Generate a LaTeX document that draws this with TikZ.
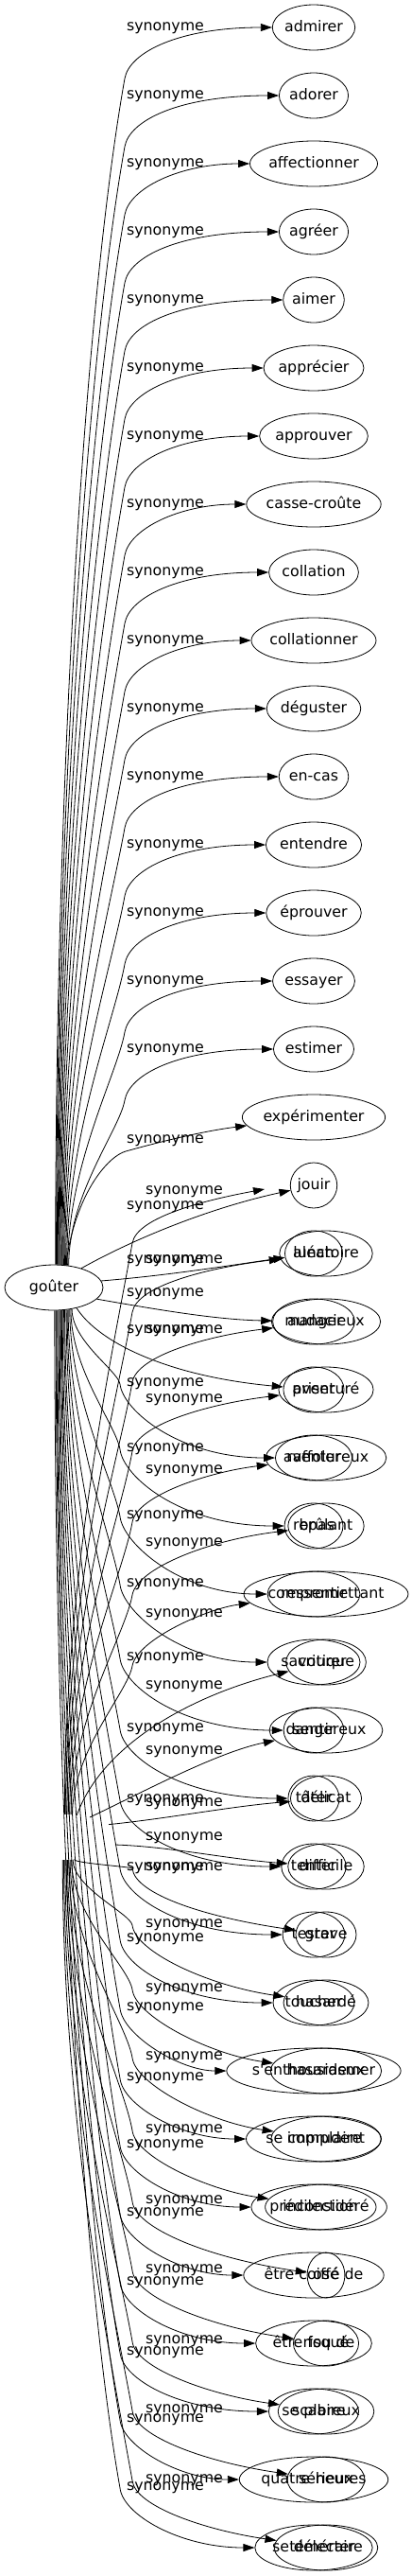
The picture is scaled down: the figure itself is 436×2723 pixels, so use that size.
\documentclass[tikz,border=0pt]{standalone}
\usepackage{fontspec}
\newfontfamily\graphfont{DejaVu Sans}
\usetikzlibrary{shapes.geometric, arrows.meta}
\newlength{\wordlen}

\begin{document}
\begin{tikzpicture}[x=1pt, y=-1pt,
    every node/.style={font=\graphfont\fontsize{15.8}{19}\selectfont},
    word/.style={ellipse, draw, line width=0.8pt, inner sep=0pt, minimum height=48pt, text height=11.5pt, text depth=3.5pt},
    syn/.style={inner sep=0pt},
    link/.style={draw, line width=0.8pt, -{Triangle[length=12pt, width=8pt]}}]
\graphfont\fontsize{15.8}{19}\selectfont
\useasboundingbox (0,0) rectangle (436,2723);

% the two roots (the second one is not drawn)
\node[word, minimum width=104pt] (gouter) at (57,1361) {goûter};
\node[ellipse, minimum width=120pt, minimum height=48pt] (hidden) at (65,1942) {};

% first column of words
\foreach \w [count=\i] in {admirer, adorer, affectionner, agréer, aimer, apprécier, approuver, casse-croûte, collation, collationner, déguster, en-cas, entendre, éprouver, essayer, estimer, expérimenter, jouir, lunch, manger, priser, raffoler, repas, ressentir, savourer, sentir, tâter, tenter, tester, toucher, s'enthousiasmer, se complaire, prédilection, être coiffé de, être fou de, se plaire, quatre-heures, se délecter} {
  \settowidth{\wordlen}{\w}
  \pgfmathsetmacro\ew{1.137*(\wordlen+35)}
  \node[word, minimum width=\ew pt] (a\i) at (332,{29+72*(\i-1)}) {\w};
}
% second column of words, drawn over the first
\foreach \w [count=\i from 19] in {aléatoire, audacieux, aventuré, aventureux, brûlant, compromettant, critique, dangereux, délicat, difficile, grave, hasardé, hasardeux, imprudent, inconsidéré, osé, risqué, scabreux, sérieux, téméraire} {
  \settowidth{\wordlen}{\w}
  \pgfmathsetmacro\ew{1.137*(\wordlen+35)}
  \node[word, minimum width=\ew pt] (b\i) at (345,{29+72*(\i-1)}) {\w};
}
\coordinate (b18) at (280,1257);

% edges going up from goûter
\foreach \i in {1,...,16} {
  \pgfmathsetmacro\yr{29+72*(\i-1)}
  \pgfmathsetmacro\qy{\yr+54}
  \pgfmathsetmacro\hgt{1339-\qy}
  \pgfmathtruncatemacro\ang{86-2*(\i-1)}
  \node[syn] (s\i) at (175,\yr+1) {synonyme};
  \draw[link] (gouter.\ang) .. controls +(0,-0.43*\hgt) and ({132-0.032*\hgt},{\qy+0.18*\hgt}) .. (132,\qy) .. controls +(5,-28) and (190,\yr) .. (a\i);
}
\node[syn] (s17) at (175,1206) {synonyme};
\draw[link] (gouter.62) .. controls (80,1260) and (115,1222) .. (133,1217) .. controls (180,1204) and (220,1195) .. (a17);
\node[syn] (s18) at (175,1276) {synonyme};
\draw[link] (gouter.35) .. controls (150,1305) and (230,1275) .. (a18);
\node[syn] (s19) at (175,1333) {synonyme};
\draw[link] (gouter.8) .. controls (180,1348) and (240,1338) .. (a19);
\node[syn] (s20) at (175,1368) {synonyme};
\draw[link] (gouter.-15) .. controls (170,1385) and (230,1395) .. (a20);
\node[syn] (s21) at (175,1407) {synonyme};
\draw[link] (gouter.-42) .. controls (105,1420) and (180,1455) .. (a21);

% edges going down from goûter
\foreach \i/\yl in {22/1463, 23/1532, 24/1603, 25/1675, 26/1753, 27/1828, 28/1903, 29/1975, 30/2050, 31/2123, 32/2197, 33/2268, 34/2340, 35/2413, 36/2487, 37/2558, 38/2630} {
  \pgfmathsetmacro\yr{29+72*(\i-1)}
  \pgfmathsetmacro\vd{\yl-1384}
  \pgfmathtruncatemacro\ang{-50-2.4*(\i-22)}
  \node[syn] (s\i) at (175,\yl) {synonyme};
  \draw[link] (gouter.\ang) .. controls +(0,0.43*\vd) and ({127-0.032*\vd},{\yl-0.18*\vd}) .. (127,\yl) .. controls +(3,28) and (190,\yr) .. (a\i);
}

% second set of edges, up
\foreach \i/\yl in {18/1260, 19/1333, 20/1407, 21/1480, 22/1555, 23/1632, 24/1707} {
  \pgfmathsetmacro\yr{29+72*(\i-1)}
  \pgfmathsetmacro\qy{\yl+54}
  \pgfmathsetmacro\hgt{1918-\qy}
  \pgfmathtruncatemacro\ang{82-3*(\i-18)}
  \node[syn] (t\i) at (195,\yl) {synonyme};
  \draw[link] (hidden.\ang) .. controls +(0,-0.43*\hgt) and ({140-0.032*\hgt},{\qy+0.18*\hgt}) .. (140,\qy) .. controls +(5,-28) and (220,\yr+15) .. (b\i);
}
\node[syn] (t25) at (195,1783) {synonyme};
\draw[link] (hidden.55) .. controls (110,1840) and (210,1790) .. (b25);
\node[syn] (t26) at (195,1852) {synonyme};
\draw[link] (hidden.35) .. controls (150,1895) and (230,1852) .. (b26);
\node[syn] (t27) at (195,1907) {synonyme};
\draw[link] (hidden.15) .. controls (180,1922) and (240,1910) .. (b27);
\node[syn] (t28) at (195,1943) {synonyme};
\draw[link] (hidden.-8) .. controls (180,1952) and (240,1965) .. (b28);

% second set of edges, down
\foreach \i/\yl in {29/1975, 30/2035, 31/2103, 32/2175, 33/2252, 34/2327, 35/2400, 36/2475, 37/2548, 38/2622} {
  \pgfmathsetmacro\yr{29+72*(\i-1)}
  \pgfmathsetmacro\vd{\yl-1966}
  \pgfmathtruncatemacro\ang{-60-3*(\i-29)}
  \node[syn] (t\i) at (195,\yl) {synonyme};
  \draw[link] (hidden.\ang) .. controls +(0,0.43*\vd) and ({140-0.032*\vd},{\yl-0.18*\vd}) .. (140,\yl) .. controls +(3,28) and (220,\yr-18) .. (b\i);
}
\end{tikzpicture}
\end{document}
